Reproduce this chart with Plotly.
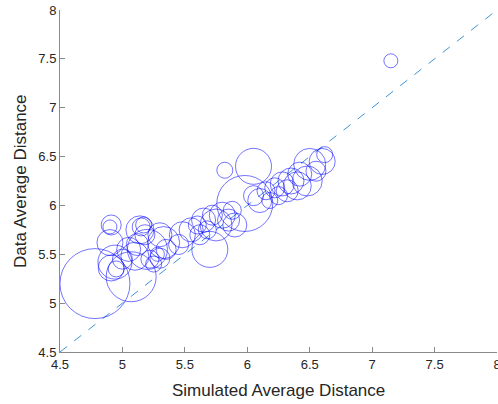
import plotly.graph_objects as go

# simulated average distance (x), data average distance (y), bubble size (diameter px)
sim_avg = [4.78, 5.07, 4.94, 4.90, 4.91, 4.90, 4.91, 4.95, 5.00, 5.05, 5.10, 5.14, 5.15, 5.17,
           5.18, 5.12, 5.20, 5.22, 5.25, 5.28, 5.30, 5.33, 5.30, 5.35,
           5.45, 5.48, 5.55, 5.60, 5.62, 5.65, 5.70, 5.68, 5.72, 5.75, 5.80, 5.85, 5.90, 5.88, 5.82,
           5.98, 6.05, 6.05, 6.10, 6.15, 6.18, 6.22, 6.25, 6.28, 6.32, 6.35, 6.40, 6.42, 6.48, 6.50,
           6.55, 6.60, 6.62, 7.15]
data_avg = [5.20, 5.27, 5.42, 5.62, 5.80, 5.78, 5.36, 5.35, 5.45, 5.55, 5.48, 5.75, 5.78, 5.80,
            5.70, 5.60, 5.55, 5.45, 5.40, 5.50, 5.46, 5.62, 5.70, 5.55,
            5.60, 5.70, 5.75, 5.80, 5.70, 5.85, 5.55, 5.75, 5.90, 5.80, 5.90, 5.85, 5.80, 5.95, 6.36,
            6.02, 6.40, 6.10, 6.05, 6.15, 6.05, 6.18, 6.10, 6.22, 6.15, 6.25, 6.20, 6.32, 6.25, 6.42,
            6.35, 6.45, 6.52, 7.48]
bubble_size = [70, 50, 34, 26, 20, 14, 26, 16, 20, 24, 28, 28, 18, 16,
               20, 22, 40, 18, 16, 14, 20, 32, 24, 20,
               20, 26, 24, 18, 20, 24, 36, 18, 20, 32, 26, 22, 24, 18, 16,
               56, 36, 20, 24, 18, 16, 20, 18, 24, 22, 26, 28, 24, 30, 32,
               20, 26, 16, 14]

diag = [4.5, 8]
x_ticks = [4.5, 5, 5.5, 6, 6.5, 7, 7.5, 8]
y_ticks = [4.5, 5, 5.5, 6, 6.5, 7, 7.5, 8]
x_title = "Simulated Average Distance"
y_title = "Data Average Distance"

fig = go.Figure()
fig.add_trace(go.Scatter(x=diag, y=diag, mode="lines",
                         line=dict(color="#3d94d6", width=1, dash="dash"),
                         showlegend=False, hoverinfo="skip", cliponaxis=False))
fig.add_trace(go.Scatter(x=sim_avg, y=data_avg, mode="markers",
                         marker=dict(symbol="circle-open", size=bubble_size, sizemode="diameter",
                                     color="rgba(0,0,255,0.78)", line=dict(width=1)),
                         showlegend=False))

axis_common = dict(showline=True, linecolor="#8a8a8a", linewidth=1, mirror=False,
                   ticks="inside", ticklen=5, tickcolor="#8a8a8a", showgrid=False,
                   zeroline=False, automargin=False, ticklabeloverflow="allow",
                   tickfont=dict(size=13, color="#262626"))
fig.update_xaxes(range=[4.5, 8], tickvals=x_ticks, ticktext=[f"{v:g}" for v in x_ticks],
                 **axis_common)
fig.update_yaxes(range=[4.5, 8], tickvals=y_ticks, ticktext=[f"{v:g}" for v in y_ticks],
                 **axis_common)
fig.add_annotation(text=x_title, xref="paper", yref="paper", x=0.5, y=0, yshift=-38,
                   yanchor="middle", showarrow=False, font=dict(size=17, color="#262626"))
fig.add_annotation(text=y_title, xref="paper", yref="paper", x=0, y=0.5, xshift=-40,
                   xanchor="center", textangle=-90, showarrow=False,
                   font=dict(size=17, color="#262626"))
fig.update_layout(width=498, height=404, margin=dict(l=60, r=1, t=10, b=52),
                  plot_bgcolor="white", paper_bgcolor="white",
                  font=dict(family="Liberation Sans, Arial, sans-serif"))
fig.write_html("out.html", config={"displayModeBar": False},
               post_script="document.body.style.margin='0';document.body.style.overflow='hidden';")
